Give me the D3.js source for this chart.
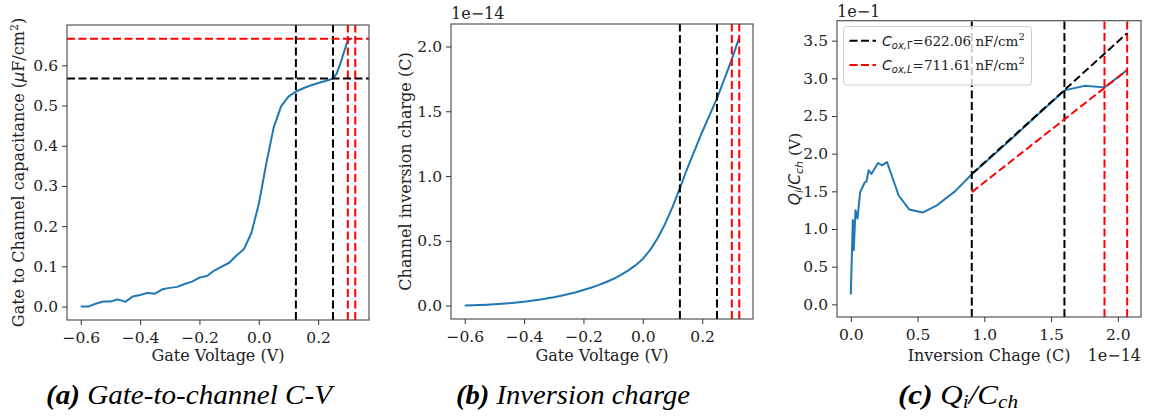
<!DOCTYPE html>
<html><head><meta charset="utf-8">
<script src="https://cdn.jsdelivr.net/npm/d3@7"></script>
<style>body{margin:0;background:#fff} svg{display:block}</style>
</head><body>
<svg id="chart" width="1149" height="416"></svg>
<script>
// ---- Panel (a): gate-to-channel C-V ----
const voltageA = [-0.6,-0.575,-0.55,-0.525,-0.5,-0.475,-0.45,-0.425,-0.4,-0.375,-0.35,-0.325,-0.3,-0.275,-0.25,-0.225,-0.2,-0.175,-0.15,-0.125,-0.1,-0.075,-0.05,-0.025,0.0,0.025,0.05,0.075,0.1,0.125,0.15,0.175,0.2,0.225,0.25,0.2625,0.275,0.3,0.315];
const capA = [0.0,0.0,0.007,0.0125,0.0125,0.018,0.0117,0.025,0.029,0.034,0.032,0.043,0.0465,0.049,0.056,0.062,0.072,0.076,0.0896,0.0995,0.109,0.127,0.143,0.183,0.255,0.355,0.445,0.498,0.522,0.535,0.543,0.55,0.556,0.561,0.567,0.58,0.605,0.663,0.667];
const capHLineBlack = 0.567;
const capHLineRed = 0.666;

// ---- Panel (b): inversion charge (x1e-14 C) ----
const voltageB = [-0.6,-0.575,-0.55,-0.525,-0.5,-0.475,-0.45,-0.425,-0.4,-0.375,-0.35,-0.325,-0.3,-0.275,-0.25,-0.225,-0.2,-0.175,-0.15,-0.125,-0.1,-0.075,-0.05,-0.025,0.0,0.025,0.05,0.075,0.1,0.125,0.15,0.175,0.2,0.225,0.25,0.275,0.3,0.325];
const chargeB = [0.0,0.002,0.004,0.007,0.011,0.015,0.019,0.024,0.03,0.037,0.045,0.054,0.064,0.076,0.089,0.103,0.12,0.138,0.158,0.18,0.205,0.235,0.27,0.31,0.36,0.43,0.52,0.63,0.76,0.906,1.06,1.2,1.34,1.47,1.6,1.75,1.9,2.07];

// vertical markers (gate voltage)
const voltLinesBlack = [0.125, 0.25];
const voltLinesRed = [0.3, 0.325];

// ---- Panel (c): Qi/Cch (x1e-1 V) vs inversion charge (x1e-14 C) ----
const chargeC = [0.0,0.007,0.015,0.022,0.035,0.05,0.07,0.105,0.117,0.134,0.154,0.204,0.234,0.271,0.358,0.438,0.537,0.645,0.78,0.906,1.06,1.2,1.34,1.47,1.6,1.75,1.9,2.07];
const ratioC = [0.13,0.6,1.12,0.72,1.25,1.14,1.49,1.62,1.63,1.78,1.73,1.876,1.845,1.89,1.448,1.258,1.218,1.315,1.5,1.726,1.97,2.19,2.42,2.63,2.84,2.9,2.88,3.11];
const chargeLinesBlack = [0.906, 1.6];
const chargeLinesRed = [1.9, 2.07];
const fitX = [0.906, 2.07];
const fitBlackY = [1.73, 3.6];
const fitRedY = [1.49, 3.11];
const legendLabels = [["Γ","622.06"],["L","711.61"]];

// ticks
const ticksVolt = [-0.6,-0.4,-0.2,0.0,0.2];
const ticksCap = [0.0,0.1,0.2,0.3,0.4,0.5,0.6];
const ticksCharge = [0.0,0.5,1.0,1.5,2.0];
const ticksRatio = [0.0,0.5,1.0,1.5,2.0,2.5,3.0,3.5];

const BLUE = "#1f77b4", RED = "#ff0000", BLACK = "#000";
const SERIF = "'DejaVu Serif', serif";
const SANS = "'DejaVu Sans', sans-serif";
const FS = 15.5;   // tick labels
const LFS = 16;    // axis labels
const DASH = "8,3.5";

const svg = d3.select("#chart");
svg.append("rect").attr("width",1149).attr("height",416).attr("fill","#fff");

function panel(box, xDom, yDom, xTicks, yTicks) {
  const x = d3.scaleLinear().domain(xDom).range([box.l, box.r]);
  const y = d3.scaleLinear().domain(yDom).range([box.b, box.t]);
  const g = svg.append("g");
  const id = "clip" + Math.round(box.l);
  svg.append("clipPath").attr("id", id).append("rect")
    .attr("x", box.l).attr("y", box.t).attr("width", box.r - box.l).attr("height", box.b - box.t);
  const plot = g.append("g").attr("clip-path", `url(#${id})`);
  const fmt = d3.format(".1f");
  const ax = g.append("g").attr("transform", `translate(0,${box.b})`)
    .call(d3.axisBottom(x).tickValues(xTicks).tickFormat(fmt).tickSize(5).tickPadding(4));
  const ay = g.append("g").attr("transform", `translate(${box.l},0)`)
    .call(d3.axisLeft(y).tickValues(yTicks).tickFormat(fmt).tickSize(5).tickPadding(4));
  [ax, ay].forEach(a => {
    a.select(".domain").remove();
    a.selectAll(".tick line").attr("stroke", "#333").attr("stroke-width", 1);
    a.selectAll(".tick text").attr("fill", "#222").style("font-family", SERIF).style("font-size", FS + "px");
  });
  ax.selectAll(".tick text").attr("dy", "0.92em");
  g.append("rect").attr("x", box.l).attr("y", box.t).attr("width", box.r - box.l).attr("height", box.b - box.t)
    .attr("fill", "none").attr("stroke", "#444").attr("stroke-width", 1.1);
  return {x, y, g, plot};
}

function curve(p, xs, ys, color) {
  const pts = xs.map((v, i) => [v, ys[i]]);
  p.plot.append("path").datum(pts)
    .attr("d", d3.line().x(d => p.x(d[0])).y(d => p.y(d[1])))
    .attr("fill", "none").attr("stroke", color).attr("stroke-width", 2).attr("stroke-linejoin", "round");
}
function vline(p, v, color) {
  p.plot.append("line").attr("x1", p.x(v)).attr("x2", p.x(v))
    .attr("y1", p.y.range()[0]).attr("y2", p.y.range()[1])
    .attr("stroke", color).attr("stroke-width", 2).attr("stroke-dasharray", DASH);
}
function hline(p, v, color) {
  p.plot.append("line").attr("y1", p.y(v)).attr("y2", p.y(v))
    .attr("x1", p.x.range()[0]).attr("x2", p.x.range()[1])
    .attr("stroke", color).attr("stroke-width", 2).attr("stroke-dasharray", DASH);
}
function text(x, y, str, opts = {}) {
  return svg.append("text").attr("x", x).attr("y", y).text(str)
    .attr("fill", opts.fill || "#222").attr("text-anchor", opts.anchor || "middle")
    .style("font-family", opts.font || SERIF).style("font-size", (opts.size || LFS) + "px");
}

// ---------- Panel A ----------
const pa = panel({l:67, t:25, r:369, b:320}, [-0.6463, 0.3713], [-0.0334, 0.7003], ticksVolt, ticksCap);
curve(pa, voltageA, capA, BLUE);
voltLinesBlack.forEach(v => vline(pa, v, BLACK));
voltLinesRed.forEach(v => vline(pa, v, RED));
hline(pa, capHLineBlack, BLACK);
hline(pa, capHLineRed, RED);
text(218, 361, "Gate Voltage (V)");
{
  const t = svg.append("text").attr("transform", "translate(24,172.5) rotate(-90)")
    .attr("text-anchor", "middle").attr("fill", "#222")
    .style("font-family", SERIF).style("font-size", LFS + "px");
  t.append("tspan").text("Gate to Channel capacitance (");
  t.append("tspan").text("μ").style("font-style", "italic").style("font-family", SANS);
  t.append("tspan").text("F/cm");
  t.append("tspan").text("2").attr("dy", -6).style("font-size", "11px");
  t.append("tspan").text(")").attr("dy", 6);
}

// ---------- Panel B ----------
const pb = panel({l:451, t:24, r:753, b:319}, [-0.6463, 0.3713], [-0.1035, 2.1735], ticksVolt, ticksCharge);
curve(pb, voltageB, chargeB, BLUE);
voltLinesBlack.forEach(v => vline(pb, v, BLACK));
voltLinesRed.forEach(v => vline(pb, v, RED));
text(602, 361, "Gate Voltage (V)");
text(451, 19, "1e−14", {anchor: "start"});
svg.append("text").attr("transform", "translate(411,171.5) rotate(-90)")
  .attr("text-anchor", "middle").attr("fill", "#222")
  .style("font-family", SERIF).style("font-size", LFS + "px").text("Channel inversion charge (C)");

// ---------- Panel C ----------
const pc = panel({l:837, t:20.7, r:1141, b:317}, [-0.1035, 2.1735], [-0.168, 3.765], ticksCharge, ticksRatio);
curve(pc, chargeC, ratioC, BLUE);
chargeLinesBlack.forEach(v => vline(pc, v, BLACK));
chargeLinesRed.forEach(v => vline(pc, v, RED));
[[fitBlackY, BLACK], [fitRedY, RED]].forEach(([ys, col]) => {
  pc.plot.append("line").attr("x1", pc.x(fitX[0])).attr("y1", pc.y(ys[0]))
    .attr("x2", pc.x(fitX[1])).attr("y2", pc.y(ys[1]))
    .attr("stroke", col).attr("stroke-width", 2).attr("stroke-dasharray", DASH);
});
text(989, 361, "Inversion Chage (C)");
text(1141, 361, "1e−14", {anchor: "end"});
text(837, 17, "1e−1", {anchor: "start"});
{
  const t = svg.append("text").attr("transform", "translate(800,169) rotate(-90)")
    .attr("text-anchor", "middle").attr("fill", "#222")
    .style("font-family", SERIF).style("font-size", "15.5px");
  t.append("tspan").text("Q").style("font-family", SANS).style("font-style", "italic");
  t.append("tspan").text("i").style("font-family", SANS).style("font-style", "italic").style("font-size", "11px").attr("dy", 3);
  t.append("tspan").text("/").style("font-family", SANS).attr("dy", -3);
  t.append("tspan").text("C").style("font-family", SANS).style("font-style", "italic");
  t.append("tspan").text("ch").style("font-family", SANS).style("font-style", "italic").style("font-size", "11px").attr("dy", 3);
  t.append("tspan").text(" (V)").attr("dy", -3);
}
// legend
{
  const lg = svg.append("g");
  lg.append("rect").attr("x", 843.5).attr("y", 26.5).attr("width", 188).attr("height", 58.5).attr("rx", 3)
    .attr("fill", "#fff").attr("fill-opacity", 0.8).attr("stroke", "#ccc").attr("stroke-width", 1);
  [BLACK, RED].forEach((col, i) => {
    const yy = 40.7 + i * 24.3;
    lg.append("line").attr("x1", 849.5).attr("x2", 876).attr("y1", yy).attr("y2", yy)
      .attr("stroke", col).attr("stroke-width", 2).attr("stroke-dasharray", DASH);
    const t = lg.append("text").attr("x", 882).attr("y", yy + 5).attr("fill", "#222")
      .style("font-family", SERIF).style("font-size", "13.5px");
    t.append("tspan").text("C").style("font-family", SANS).style("font-style", "italic").style("font-size", "14px");
    t.append("tspan").text("ox,").style("font-family", SANS).style("font-style", "italic").style("font-size", "10px").attr("dy", 3);
    t.append("tspan").text(legendLabels[i][0]).style("font-family", SANS)
      .style("font-style", i === 0 ? "normal" : "italic").style("font-size", "10px");
    t.append("tspan").text("=" + legendLabels[i][1] + " nF/cm").attr("dy", -3);
    t.append("tspan").text("2").style("font-size", "10px").attr("dy", -6);
  });
}

// ---------- Captions ----------
function caption(x, w, parts) {
  const t = svg.append("text").attr("x", x).attr("y", 404).attr("fill", "#000")
    .attr("textLength", w).attr("lengthAdjust", "spacingAndGlyphs")
    .style("font-family", "'Liberation Serif', 'Times New Roman', serif").style("font-size", "28px").style("font-style", "italic");
  parts.forEach(p => {
    const s = t.append("tspan").text(p.t);
    if (p.b) s.style("font-weight", "bold");
    if (p.small) s.style("font-size", "19px");
    if (p.dy) s.attr("dy", p.dy);
  });
}
caption(46, 286, [{t:"(a)", b:true}, {t:" Gate-to-channel C-V"}]);
caption(456, 234, [{t:"(b)", b:true}, {t:" Inversion charge"}]);
caption(898, 120, [{t:"(c)", b:true}, {t:" Q"}, {t:"i", small:true, dy:4}, {t:"/C", dy:-4}, {t:"ch", small:true, dy:4}]);
</script>
</body></html>
